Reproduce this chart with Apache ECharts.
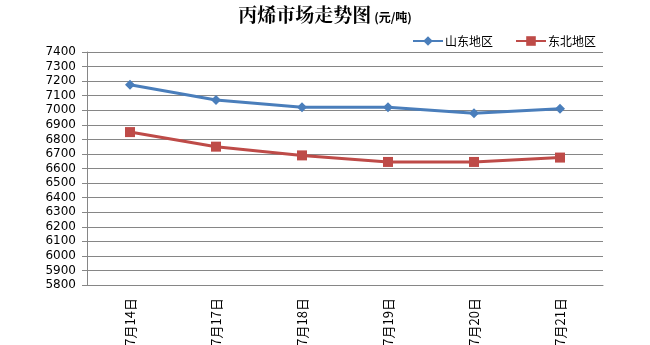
<!DOCTYPE html>
<html><head><meta charset="utf-8">
<script src="https://cdn.jsdelivr.net/npm/echarts@6/dist/echarts.min.js"></script>
<style>html,body{margin:0;padding:0;background:#fff}#c{width:650px;height:345px}</style>
</head><body><div id="c"></div>
<script>
const categories = ['7月14日','7月17日','7月18日','7月19日','7月20日','7月21日'];
const shandong = [7175, 7070, 7020, 7020, 6980, 7010];
const dongbei = [6850, 6750, 6690, 6645, 6645, 6675];
const seriesNames = ['山东地区','东北地区'];

const chart = echarts.init(document.getElementById('c'));
chart.setOption({
  animation: false,
  title: {
    text: '{a|丙烯市场走势图}{b|(元/吨)}',
    left: 'center', top: 0,
    textStyle: {
      rich: {
        a: {fontFamily: 'Noto Serif CJK SC, "Noto Sans CJK SC", serif', fontWeight: 'bold', fontSize: 19, color: '#000'},
        b: {fontFamily: '"Noto Sans CJK SC", sans-serif', fontWeight: 'bold', fontSize: 12, color: '#000', padding: [5,0,0,3]}
      }
    }
  },
  legend: {
    top: 30, right: 49, itemWidth: 30, itemHeight: 12, itemGap: 22,
    textStyle: {fontFamily: '"Noto Sans CJK SC", sans-serif', fontSize: 12, color: '#000', padding: [0,0,0,-3]},
    data: seriesNames
  },
  grid: {left: 87, right: 47, top: 52, bottom: 60, outerBoundsMode: 'none', containLabel: false},
  xAxis: {
    type: 'category', data: categories, boundaryGap: true,
    axisLine: {lineStyle: {color: '#868686', width: 1}},
    axisTick: {show: false},
    axisLabel: {rotate: 90, margin: 13, fontSize: 13, color: '#000', fontFamily: '"Noto Sans CJK SC", sans-serif'}
  },
  yAxis: {
    type: 'value', min: 5800, max: 7400, interval: 100,
    axisLine: {show: true, lineStyle: {color: '#868686'}},
    axisTick: {show: true, length: 5, lineStyle: {color: '#868686'}},
    axisLabel: {fontSize: 12, color: '#000', margin: 11, fontFamily: 'DejaVu Sans, sans-serif', formatter: v => String(v)},
    splitLine: {lineStyle: {color: '#868686', width: 1}}
  },
  series: [
    {name: seriesNames[0], type: 'line', data: shandong, symbol: 'diamond', symbolSize: 10,
     itemStyle: {color: '#4A7EBB'}, lineStyle: {width: 3, color: '#4A7EBB'}},
    {name: seriesNames[1], type: 'line', data: dongbei, symbol: 'rect', symbolSize: 10,
     itemStyle: {color: '#BE4B48'}, lineStyle: {width: 3, color: '#BE4B48'}}
  ]
});
</script></body></html>
